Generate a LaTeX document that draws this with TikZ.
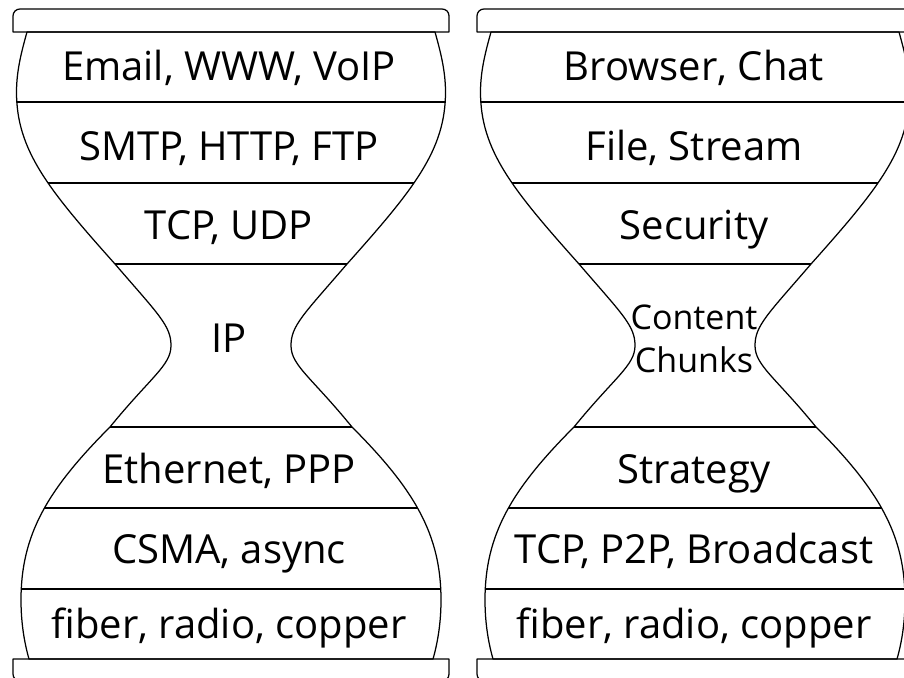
\documentclass[tikz,border=0pt]{standalone}
\usepackage{fontspec}
\setmainfont{Open Sans}

% Outline of one hourglass body (left side down, right side up), centre x = 231
\newcommand\glassoutline{%
 (27,32) .. controls (22,50) and (16.5,70) .. (16.5,92)
 .. controls (16.5,150) and (48,189) .. (115,264)
 .. controls (158,314) and (171,325.5) .. (171,345.5)
 .. controls (171,365.5) and (150.7,377) .. (110,427)
 .. controls (47,490) and (21,535) .. (21,600)
 .. controls (21,625) and (25,645) .. (29,659)
 -- (433,659)
 .. controls (437,645) and (441,625) .. (441,600)
 .. controls (441,535) and (415,490) .. (352,427)
 .. controls (311.3,377) and (291,365.5) .. (291,345.5)
 .. controls (291,325.5) and (304,314) .. (347,264)
 .. controls (414,189) and (445.5,150) .. (445.5,92)
 .. controls (445.5,70) and (440,50) .. (435,32) -- cycle}

\tikzset{
  rim/.style={line width=1.25pt, line join=round},
  layer/.style={font=\fontsize{40}{44}\selectfont, anchor=base, inner sep=0pt},
  smalllayer/.style={font=\fontsize{34}{43}\selectfont, align=center, inner sep=0pt},
  glass/.pic={
    % layer separators, kept inside the body
    \begin{scope}
      \clip \glassoutline;
      \foreach \yy in {102,183,264,427,508,589}
        \draw[rim] (0,\yy) -- (462,\yy);
    \end{scope}
    \draw[rim] \glassoutline;
    % top cap
    \draw[rim] (13,32) -- (13,16) .. controls (13,12) and (16,9) .. (20,9)
      -- (442,9) .. controls (446,9) and (449,12) .. (449,16) -- (449,32) -- cycle;
    % bottom cap
    \draw[rim] (13,659) -- (13,674) .. controls (13,678) and (16,681) .. (20,681)
      -- (442,681) .. controls (446,681) and (449,678) .. (449,674) -- (449,659) -- cycle;
  }
}

\begin{document}
\begin{tikzpicture}[x=1pt,y=-1pt]
  \useasboundingbox (0,0) rectangle (904,677);
  \fill[white] (0,0) rectangle (904,677);
  \clip (0,0) rectangle (904,677);

  % Internet hourglass
  \pic at (0,0) {glass};
  \node[layer] (email)  at (229,80)  {Email, WWW, VoIP};
  \node[layer] (smtp)   at (229,160) {SMTP, HTTP, FTP};
  \node[layer] (tcpudp) at (229,239) {TCP, UDP};
  \node[layer] (ip)     at (229,352) {IP};
  \node[layer] (eth)    at (229,483) {Ethernet, PPP};
  \node[layer] (csma)   at (229,563) {CSMA, async};
  \node[layer] (phys1)  at (229,638) {fiber, radio, copper};

  % Content-centric hourglass
  \pic at (464,0) {glass};
  \node[layer] (browser)  at (694,80)  {Browser, Chat};
  \node[layer] (file)     at (694,160) {File, Stream};
  \node[layer] (security) at (694,239) {Security};
  \node[smalllayer] (chunks) at (694,339) {Content\\Chunks};
  \node[layer] (strategy) at (694,483) {Strategy};
  \node[layer] (transport) at (694,563) {TCP, P2P, Broadcast};
  \node[layer] (phys2)    at (694,638) {fiber, radio, copper};
\end{tikzpicture}
\end{document}
